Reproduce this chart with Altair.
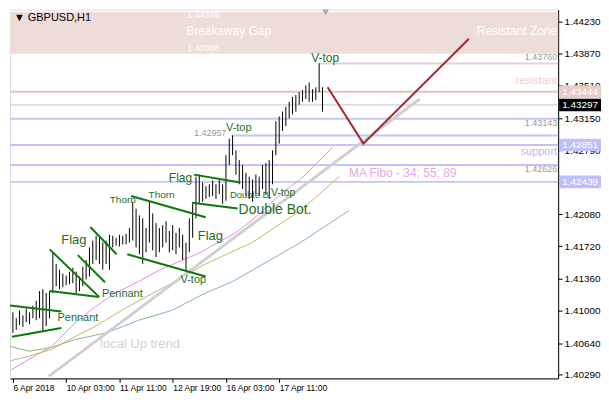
import altair as alt
import pandas as pd

FONT = "Liberation Sans"

# ---------------- data ----------------
hours = list(range(0, 188, 2))  # H1 bars, hour index from 6 Apr 19:00 (every 2nd bar)
highs = [1.40983, 1.40918, 1.41005, 1.40950, 1.41026, 1.40983, 1.41059, 1.41113, 1.41221, 1.41243,
         1.41199, 1.41221, 1.41654, 1.41524, 1.41459, 1.41416, 1.41394, 1.41438, 1.41481, 1.41438,
         1.41383, 1.41492, 1.41567, 1.41708, 1.41784, 1.41838, 1.41816, 1.41762, 1.41784, 1.41849,
         1.41838, 1.41816, 1.41849, 1.41838, 1.41860, 1.41925, 1.42217, 1.42141, 1.42065, 1.42033,
         1.41925, 1.42217, 1.42087, 1.41979, 1.41925, 1.41957, 1.42000, 1.41892, 1.41957, 1.41870,
         1.41925, 1.41849, 1.41762, 1.42033, 1.42195, 1.42498, 1.42520, 1.42433, 1.42390, 1.42412,
         1.42455, 1.42412, 1.42466, 1.42412, 1.42736, 1.42920, 1.42957, 1.42791, 1.42682, 1.42628,
         1.42542, 1.42498, 1.42466, 1.42520, 1.42498, 1.42628, 1.42650, 1.42682, 1.42791, 1.43115,
         1.43169, 1.43223, 1.43278, 1.43332, 1.43386, 1.43408, 1.43440, 1.43462, 1.43516, 1.43548,
         1.43472, 1.43494, 1.43760, 1.43494]
lows = [1.40756, 1.40788, 1.40842, 1.40821, 1.40875, 1.40853, 1.40918, 1.40896, 1.40918, 1.40766,
        1.40831, 1.40918, 1.41199, 1.41275, 1.41243, 1.41264, 1.41286, 1.41297, 1.41308, 1.41199,
        1.41221, 1.41275, 1.41351, 1.41383, 1.41524, 1.41567, 1.41524, 1.41459, 1.41524, 1.41459,
        1.41708, 1.41730, 1.41719, 1.41741, 1.41741, 1.41762, 1.41784, 1.41708, 1.41632, 1.41524,
        1.41654, 1.41762, 1.41676, 1.41600, 1.41654, 1.41708, 1.41762, 1.41654, 1.41676, 1.41632,
        1.41708, 1.41567, 1.41438, 1.41654, 1.41816, 1.42033, 1.42195, 1.42217, 1.42249, 1.42271,
        1.42282, 1.42249, 1.42303, 1.42195, 1.42228, 1.42628, 1.42736, 1.42520, 1.42412, 1.42358,
        1.42282, 1.42249, 1.42217, 1.42303, 1.42282, 1.42358, 1.42303, 1.42249, 1.42412, 1.42736,
        1.42866, 1.43007, 1.43061, 1.43148, 1.43191, 1.43223, 1.43299, 1.43332, 1.43364, 1.43332,
        1.43332, 1.43353, 1.43440, 1.43223]

# moving averages (Fibo 34 / 55 / 89)
ma34_h = [-1.75, 9.9, 23.3, 37.2, 48.9, 60.5, 75.6, 89.6, 110.5, 133.8, 143.7, 162.9, 172.8, 192.0]
ma34_p = [1.40334, 1.40463, 1.40604, 1.40864, 1.41037, 1.41189, 1.41329, 1.41470, 1.41632, 1.41870,
          1.42011, 1.42336, 1.42466, 1.42823]
ma55_h = [-1.75, 9.9, 23.3, 37.2, 48.9, 62.3, 75.6, 95.4, 114.6, 143.7, 172.8, 196.1]
ma55_p = [1.40442, 1.40496, 1.40572, 1.40712, 1.40821, 1.40972, 1.41113, 1.41308, 1.41513, 1.41762,
          1.42119, 1.42498]
ma89_h = [-1.75, 9.9, 23.3, 37.2, 56.4, 75.6, 95.4, 114.6, 132.1, 172.8, 201.9]
ma89_p = [1.40604, 1.40550, 1.40593, 1.40680, 1.40756, 1.40896, 1.41005, 1.41189, 1.41329, 1.41762,
          1.42119]

trend_h = [21.5, 244.4]
trend_p = [1.40269, 1.43364]

forecast_h = [189.1, 210.6, 274.0]
forecast_p = [1.43494, 1.42866, 1.44035]

# pattern lines (start h, start price, end h, end price)
seg_h1 = [-1.75, -0.6, 22.1, 22.1, 39.0, 46.5, 71.0, 68.7, 108.8, 107.6]
seg_p1 = [1.41059, 1.40712, 1.41686, 1.41221, 1.41622, 1.41935, 1.42282, 1.41632, 1.42520, 1.42206]
seg_h2 = [29.1, 29.1, 51.8, 51.8, 55.3, 62.3, 115.8, 115.8, 136.7, 135.0]
seg_p2 = [1.40994, 1.40810, 1.41156, 1.41156, 1.41319, 1.41632, 1.42044, 1.41383, 1.42433, 1.42141]

# horizontal levels
lvl_price = [1.43760, 1.43444, 1.43297, 1.43143, 1.42957, 1.42851, 1.42626, 1.42439]
lvl_start = [183.0, -1.75, -1.75, -1.75, 131.5, -1.75, -1.75, -1.75]
lvl_color = ["#e6d3cd", "#dfc6bf", "#c4c4c4", "#c4c4fa", "#c4c4fa", "#c4c4fa", "#c4c4fa", "#c4c4fa"]
lvl_width = [2, 2, 1, 2, 2, 2, 2, 2]

gap_top, gap_bottom = 1.44335, 1.43868

box_price = [1.43444, 1.43297, 1.42851, 1.42439]
box_color = ["#e8cccc", "#000000", "#c0c0f8", "#c0c0f8"]

ytick_vals = [1.44230, 1.43870, 1.43510, 1.43150, 1.42790, 1.42430, 1.42080, 1.41720, 1.41360,
              1.41000, 1.40640, 1.40290]
ytick_hidden = [1.42430]  # fully covered by the 1.42439 price box
xtick_vals = [0, 32, 64, 96, 128, 160]
xtick_labels = ["6 Apr 2018", "10 Apr 03:00", "11 Apr 11:00", "12 Apr 19:00", "16 Apr 03:00",
                "17 Apr 11:00"]

G = "#1c6e1c"
left_text = ["Flag", "Pennant", "Pennant", "Thorn", "Thorn", "Flag", "V-top", "Flag", "V-top",
             "1.42957", "Double B.", "V-top", "Double Bot.", "V-top", "local  Up trend",
             "MA Fibo - 34; 55; 89", "Breakaway Gap", "1.44335", "1.43868", "▼ GBPUSD,H1"]
left_h = [29.1, 26.8, 53.5, 58.2, 81.5, 111.1, 100.7, 93.7, 128.0, 108.8, 130.4, 155.0, 135.6, 179.2,
          52.4, 201.9, 104.1, 104.7, 104.7, 0.6]
left_p = [1.41795, 1.40918, 1.41189, 1.42239, 1.42293, 1.41838, 1.41340, 1.42477, 1.43040, 1.42985,
          1.42290, 1.42314, 1.42125, 1.43819, 1.40626, 1.42542, 1.44122, 1.44295, 1.43927, 1.44263]
left_col = [G, G, G, G, G, G, G, G, G, "#9a9a9a", G, G, G, G, "#d2d2d2", "#e8a8e8", "white", "white",
            "white", "black"]
left_size = [13, 11, 11, 10, 10, 13, 11, 12, 11, 9, 9.5, 10.5, 14, 12, 13, 12, 12, 9, 9, 11]

right_text = ["Resistant Zone", "1.43760", "resistant", "1.43143", "support", "1.42626"]
right_p = [1.44122, 1.43830, 1.43559, 1.43097, 1.42769, 1.42585]
right_col = ["white", "#9a9a9a", "#f0cccc", "#9a9a9a", "#b8b8f0", "#9a9a9a"]
right_size = [12, 9, 11, 9, 11, 9]

# ---------------- chart ----------------
W, H = 550, 370
XMIN, XMAX = -1.75, 327.6
YMIN, YMAX = 1.40247, 1.44360
xs = alt.Scale(domain=[XMIN, XMAX], nice=False, zero=False)
ys = alt.Scale(domain=[YMIN, YMAX], nice=False, zero=False)

label_expr = " : ".join(f"datum.value == {v} ? '{t}'" for v, t in zip(xtick_vals, xtick_labels)) + " : ''"
ylabel_expr = " || ".join(f"abs(datum.value - {v}) < 0.00001" for v in ytick_hidden) + \
    " ? '' : format(datum.value, '.5f')"
xaxis = alt.Axis(values=xtick_vals, labelExpr=label_expr, orient="bottom", title=None, grid=False,
                 labelAlign="left", tickSize=4, labelPadding=1, labelFont=FONT, labelFontSize=8.5,
                 labelColor="black", domainColor="black", tickColor="black", labelFlush=False,
                 labelOverlap=False)
yaxis = alt.Axis(values=ytick_vals, labelExpr=ylabel_expr, orient="right", title=None, grid=False,
                 tickSize=4, labelPadding=2, labelFont=FONT, labelFontSize=10, labelColor="black",
                 domainColor="black", tickColor="black", labelOverlap=False, labelFlush=False)


def X(f):
    return alt.X(f, type="quantitative", scale=xs, axis=xaxis)


def Y(f):
    return alt.Y(f, type="quantitative", scale=ys, axis=yaxis)


band = alt.Chart(pd.DataFrame({"x1": [XMIN], "x2": [XMAX], "top": [gap_top], "bot": [gap_bottom]})
                 ).mark_rect(color="#eedcd9").encode(x=X("x1"), x2="x2", y=Y("top"), y2="bot")

lv = pd.DataFrame({"p": lvl_price, "s": lvl_start, "e": [XMAX] * len(lvl_price),
                   "c": lvl_color, "w": lvl_width})
levels = alt.Chart(lv).mark_rule().encode(
    x=X("s"), x2="e", y=Y("p"),
    color=alt.Color("c:N", scale=None), size=alt.Size("w:Q", scale=None))


def line(hs, ps, color, width):
    return alt.Chart(pd.DataFrame({"h": hs, "p": ps})).mark_line(
        color=color, strokeWidth=width).encode(x=X("h"), y=Y("p"))


ma34 = line(ma34_h, ma34_p, "#e08ee0", 1)
ma55 = line(ma55_h, ma55_p, "#c2b86a", 1)
ma89 = line(ma89_h, ma89_p, "#86ba86", 1)
trend = line(trend_h, trend_p, "#d0d0d0", 3)

bars = alt.Chart(pd.DataFrame({"h": hours, "hi": highs, "lo": lows})).mark_rule(
    color="black", strokeWidth=1).encode(x=X("h"), y=Y("hi"), y2="lo")

segs = alt.Chart(pd.DataFrame({"h1": seg_h1, "p1": seg_p1, "h2": seg_h2, "p2": seg_p2})).mark_rule(
    color="#0b7a0b", strokeWidth=2).encode(x=X("h1"), x2="h2", y=Y("p1"), y2="p2")

forecast = line(forecast_h, forecast_p, "#a52a2a", 2)

ltxt = alt.Chart(pd.DataFrame({"t": left_text, "h": left_h, "p": left_p, "c": left_col,
                               "s": left_size})).mark_text(
    align="left", baseline="middle", font=FONT).encode(
    x=X("h"), y=Y("p"), text="t:N", color=alt.Color("c:N", scale=None),
    size=alt.Size("s:Q", scale=None))

rtxt = alt.Chart(pd.DataFrame({"t": right_text, "h": [XMAX - 0.6] * len(right_text), "p": right_p,
                               "c": right_col, "s": right_size})).mark_text(
    align="right", baseline="middle", font=FONT).encode(
    x=X("h"), y=Y("p"), text="t:N", color=alt.Color("c:N", scale=None),
    size=alt.Size("s:Q", scale=None))

marker = alt.Chart(pd.DataFrame({"h": [187.9], "p": [1.44330]})).mark_point(
    shape="triangle-down", filled=True, color="#a8a8a8", size=45, opacity=1).encode(
    x=X("h"), y=Y("p"))

bx = pd.DataFrame({"p": box_price, "c": box_color, "t": [f"{v:.5f}" for v in box_price]})
boxes = alt.Chart(bx).mark_point(shape="M-1,-0.3H1V0.3H-1Z", filled=True, size=42 * 42,
                                 opacity=1, strokeWidth=0).encode(
    x=alt.value(W + 22), y=Y("p"), color=alt.Color("c:N", scale=None))
boxtxt = alt.Chart(bx).mark_text(align="left", baseline="middle", font=FONT, fontSize=10,
                                 color="white").encode(x=alt.value(W + 4), y=Y("p"), text="t:N")

chart = alt.layer(band, levels, ma34, ma55, ma89, trend, bars, segs, forecast, ltxt, rtxt, marker,
                  boxes, boxtxt).properties(width=W, height=H, padding=0).configure_view(
    stroke="black", strokeWidth=1).configure(background="white")

chart.save("out.html", embed_options={"renderer": "svg", "actions": False})
